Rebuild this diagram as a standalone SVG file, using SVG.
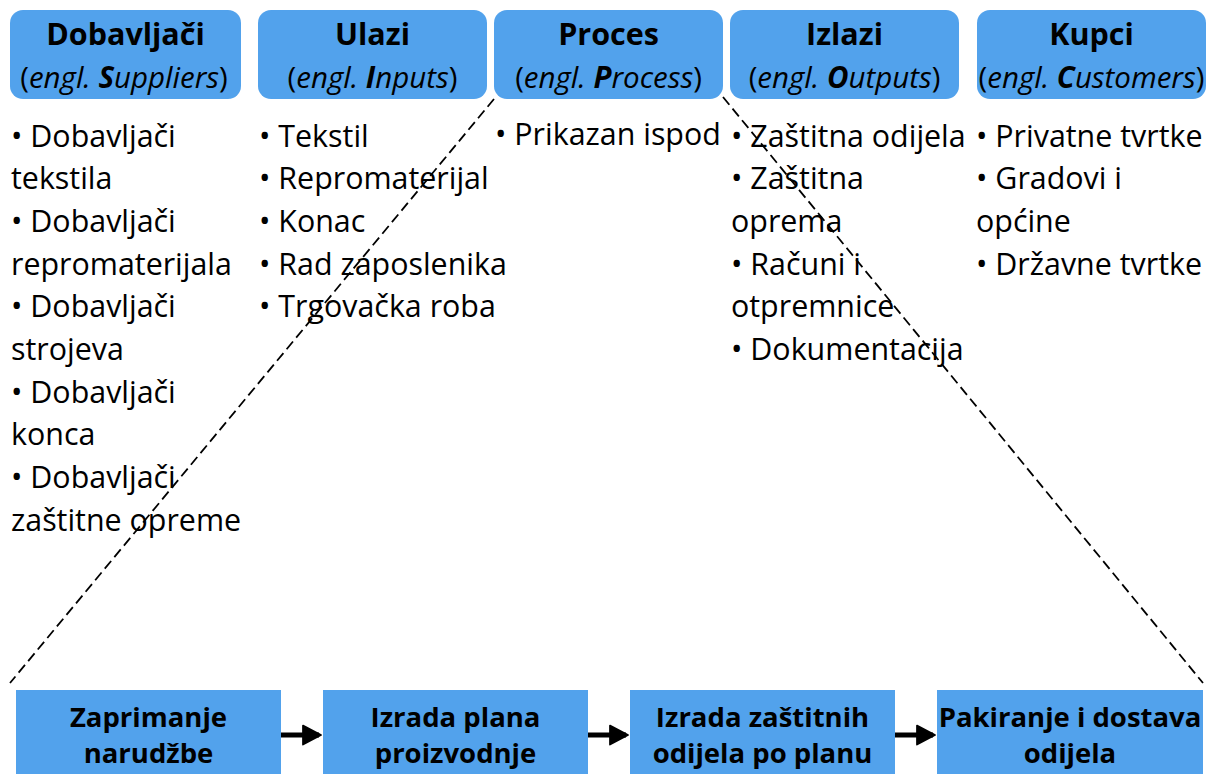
<svg xmlns="http://www.w3.org/2000/svg" width="1217" height="774" viewBox="0 0 1217 774">
<style>
.hd{fill:#52a2ec;}
.bx{fill:#52a2ec;}
text{font-family:"Open Sans","Noto Sans",sans-serif;fill:#000;}
.t1{font-size:30.5px;font-weight:700;text-anchor:middle;}
.t2{font-size:29.5px;text-anchor:middle;}
.it{font-style:italic;}
.b{font-weight:700;}
.li{font-size:30.4px;}
.bt{font-size:27.5px;font-weight:700;text-anchor:middle;}
.dash{stroke:#000;stroke-width:1.8;stroke-dasharray:10 5;fill:none;}
.arr{stroke:#000;stroke-width:5;fill:none;}
</style>
<defs>
<marker id="ah" markerWidth="4.4" markerHeight="4.4" refX="3.4" refY="2.2" orient="auto" markerUnits="strokeWidth" viewBox="0 0 4.4 4.4">
<path d="M0.2,0.3 L3.8,2.2 L0.2,4.1 Z" fill="#000" stroke="#000" stroke-width="0.35" stroke-linejoin="round"/>
</marker>
</defs>
<rect width="1217" height="774" fill="#fff"/>

<g id="connectors">
<line class="dash" x1="494" y1="99" x2="10" y2="683"/>
<line class="dash" x1="723" y1="97" x2="1203" y2="683"/>
<line class="arr" x1="281" y1="735" x2="319" y2="735" marker-end="url(#ah)"/>
<line class="arr" x1="588" y1="735" x2="626" y2="735" marker-end="url(#ah)"/>
<line class="arr" x1="895" y1="735" x2="933" y2="735" marker-end="url(#ah)"/>
</g>

<g id="suppliers">
<rect class="hd" x="10" y="10" width="231" height="89" rx="13"/>
<text class="t1" x="125.5" y="45">Dobavljači</text>
<text class="t2" x="124" y="88">(<tspan class="it">engl. </tspan><tspan class="it b">S</tspan><tspan class="it">uppliers</tspan>)</text>
<text class="li" x="11"><tspan x="11" y="146.5">• Dobavljači</tspan><tspan x="11" y="189.2">tekstila</tspan><tspan x="11" y="231.9">• Dobavljači</tspan><tspan x="11" y="274.6">repromaterijala</tspan><tspan x="11" y="317.3">• Dobavljači</tspan><tspan x="11" y="360">strojeva</tspan><tspan x="11" y="402.7">• Dobavljači</tspan><tspan x="11" y="445.4">konca</tspan><tspan x="11" y="488.1">• Dobavljači</tspan><tspan x="11" y="530.8">zaštitne opreme</tspan></text>
</g>

<g id="inputs">
<rect class="hd" x="258" y="10" width="229" height="89" rx="13"/>
<text class="t1" x="372.5" y="45">Ulazi</text>
<text class="t2" x="372.5" y="88">(<tspan class="it">engl. </tspan><tspan class="it b">I</tspan><tspan class="it">nputs</tspan>)</text>
<text class="li"><tspan x="259" y="146.5">• Tekstil</tspan><tspan x="259" y="189.2">• Repromaterijal</tspan><tspan x="259" y="231.9">• Konac</tspan><tspan x="259" y="274.6">• Rad zaposlenika</tspan><tspan x="259" y="317.3">• Trgovačka roba</tspan></text>
</g>

<g id="process">
<rect class="hd" x="494" y="10" width="229" height="89" rx="13"/>
<text class="t1" x="608.5" y="45">Proces</text>
<text class="t2" x="608.5" y="88">(<tspan class="it">engl. </tspan><tspan class="it b">P</tspan><tspan class="it">rocess</tspan>)</text>
<text class="li"><tspan x="495" y="144.5">• Prikazan ispod</tspan></text>
</g>

<g id="outputs">
<rect class="hd" x="730" y="10" width="229" height="89" rx="13"/>
<text class="t1" x="844.5" y="45">Izlazi</text>
<text class="t2" x="844.5" y="88">(<tspan class="it">engl. </tspan><tspan class="it b">O</tspan><tspan class="it">utputs</tspan>)</text>
<text class="li"><tspan x="731" y="146.5">• Zaštitna odijela</tspan><tspan x="731" y="189.2">• Zaštitna</tspan><tspan x="731" y="231.9">oprema</tspan><tspan x="731" y="274.6">• Računi i</tspan><tspan x="731" y="317.3">otpremnice</tspan><tspan x="731" y="360">• Dokumentacija</tspan></text>
</g>

<g id="customers">
<rect class="hd" x="977" y="10" width="229" height="89" rx="13"/>
<text class="t1" x="1091.5" y="45">Kupci</text>
<text class="t2" x="1091.5" y="88">(<tspan class="it">engl. </tspan><tspan class="it b">C</tspan><tspan class="it">ustomers</tspan>)</text>
<text class="li"><tspan x="976" y="146.5">• Privatne tvrtke</tspan><tspan x="976" y="189.2">• Gradovi i</tspan><tspan x="976" y="231.9">općine</tspan><tspan x="976" y="274.6">• Državne tvrtke</tspan></text>
</g>

<g id="step1">
<rect class="bx" x="16" y="690" width="265" height="90"/>
<text class="bt" x="148.5" y="726.5">Zaprimanje</text>
<text class="bt" x="148.5" y="762.5">narudžbe</text>
</g>
<g id="step2">
<rect class="bx" x="323" y="690" width="265" height="90"/>
<text class="bt" x="455.5" y="726.5">Izrada plana</text>
<text class="bt" x="455.5" y="762.5">proizvodnje</text>
</g>
<g id="step3">
<rect class="bx" x="630" y="690" width="265" height="90"/>
<text class="bt" x="762.5" y="726.5">Izrada zaštitnih</text>
<text class="bt" x="762.5" y="762.5">odijela po planu</text>
</g>
<g id="step4">
<rect class="bx" x="937" y="690" width="266" height="90"/>
<text class="bt" x="1070" y="726.5">Pakiranje i dostava</text>
<text class="bt" x="1070" y="762.5">odijela</text>
</g>
</svg>
